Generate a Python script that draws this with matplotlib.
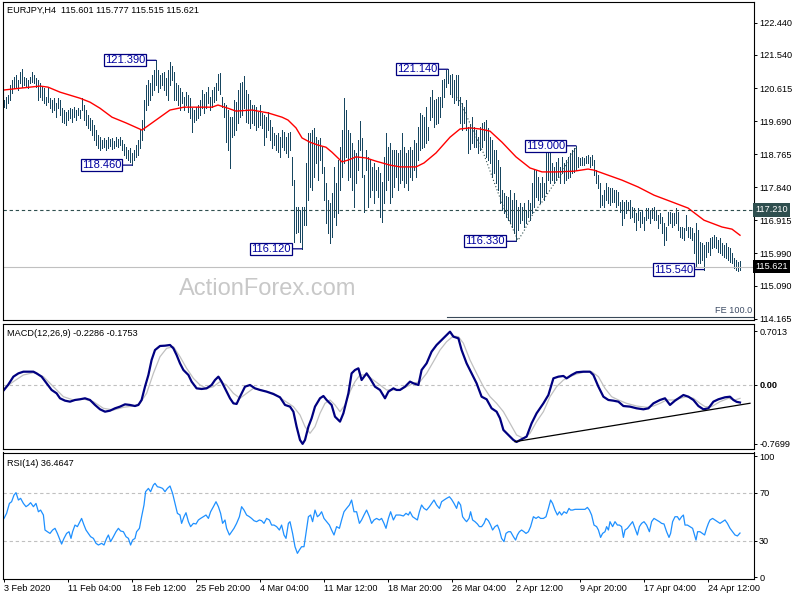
import matplotlib
matplotlib.use('Agg')
import matplotlib.pyplot as plt
import matplotlib.transforms as mtrans
import numpy as np

plt.rcParams['font.family'] = ['Liberation Sans', 'DejaVu Sans']

# EURJPY H4 bars (high / low)
high = [
    120.28, 120.36, 120.42, 120.70, 120.84, 120.92, 120.98, 120.84, 121.06, 121.14,
    120.92, 120.89, 120.84, 120.92, 121.06, 120.98, 120.89, 120.84, 120.75, 120.64,
    120.61, 120.36, 120.61, 120.33, 120.28, 120.33, 120.19, 120.33, 120.28, 120.05,
    120.00, 119.94, 120.00, 120.05, 120.03, 120.08, 120.00, 120.05, 120.00, 120.33,
    120.14, 120.00, 119.86, 119.77, 119.72, 119.58, 119.44, 119.30, 119.24, 119.16,
    119.21, 119.16, 119.24, 119.19, 119.21, 119.13, 119.24, 119.19, 119.24, 119.16,
    119.05, 118.96, 118.88, 118.93, 118.79, 118.88, 119.02, 119.16, 119.44, 119.72,
    120.28, 120.70, 120.84, 120.75, 120.98, 121.12, 121.39, 121.12, 120.98, 121.03,
    121.06, 120.89, 121.12, 121.34, 121.22, 121.06, 120.75, 120.70, 120.61, 120.50,
    120.36, 120.50, 120.42, 120.33, 120.05, 120.00, 120.09, 120.14, 120.28, 120.56,
    120.46, 120.51, 120.65, 120.37, 120.56, 120.65, 120.75, 121.02, 121.04, 120.37,
    120.19, 120.14, 120.00, 119.81, 119.81, 120.28, 120.23, 120.56, 120.75, 120.79,
    120.95, 120.56, 120.46, 120.28, 120.14, 120.14, 120.09, 119.95, 120.14, 119.91,
    119.86, 119.81, 119.95, 119.72, 119.53, 119.35, 119.30, 119.35, 119.25, 119.44,
    119.39, 119.25, 119.35, 119.39, 118.70, 118.04, 117.30, 117.30, 117.20, 117.30,
    117.30, 118.51, 119.35, 119.35, 119.44, 119.49, 119.25, 119.16, 119.21, 118.97,
    118.41, 117.95, 117.48, 117.39, 117.67, 118.41, 117.95, 118.60, 118.97, 119.44,
    120.33, 120.00, 119.44, 119.35, 119.07, 118.88, 118.79, 119.16, 119.70, 119.21,
    118.18, 118.88, 118.70, 118.60, 118.41, 118.51, 118.32, 118.41, 118.23, 117.99,
    118.70, 119.35, 118.97, 119.07, 118.88, 118.88, 118.88, 118.79, 118.88, 119.35,
    118.97, 118.79, 118.88, 118.97, 118.88, 119.16, 119.07, 119.53, 119.91, 119.85,
    119.81, 120.09, 119.53, 120.37, 120.56, 120.28, 120.30, 120.37, 120.37, 120.84,
    120.88, 121.12, 121.14, 120.98, 121.02, 120.84, 120.98, 120.98, 120.37, 120.19,
    120.09, 120.28, 119.53, 119.60, 119.81, 119.53, 119.44, 119.25, 119.53, 119.63,
    119.67, 119.72, 119.50, 119.25, 119.16, 118.88, 118.88, 118.60, 118.41, 117.76,
    117.67, 117.60, 117.58, 117.76, 117.48, 117.67, 117.48, 117.30, 117.39, 117.30,
    117.39, 117.20, 117.48, 117.39, 117.95, 118.32, 118.32, 118.14, 117.95, 118.14,
    117.95, 118.79, 118.97, 118.88, 118.51, 118.41, 118.55, 118.65, 118.41, 118.69,
    118.51, 118.60, 118.69, 118.79, 118.88, 118.93, 119.00, 118.69, 118.65, 118.69,
    118.65, 118.71, 118.74, 118.69, 118.74, 118.60, 118.32, 118.18, 117.95, 117.62,
    117.76, 117.95, 117.86, 117.81, 117.81, 117.76, 117.76, 117.72, 117.44, 117.48,
    117.44, 117.48, 117.44, 117.48, 117.30, 117.25, 117.11, 117.25, 117.16, 117.20,
    117.02, 117.25, 117.25, 117.20, 117.25, 117.30, 117.20, 117.06, 117.11, 117.02,
    116.83, 116.74, 117.16, 117.16, 117.11, 117.11, 117.25, 117.16, 116.74, 116.74,
    116.69, 117.06, 116.74, 116.74, 116.69, 116.55, 116.83, 116.64, 116.32, 116.27,
    116.22, 116.32, 116.32, 116.41, 116.46, 116.50, 116.46, 116.36, 116.41, 116.27,
    116.22, 116.27, 116.18, 116.13, 115.99, 115.85, 115.81, 115.76, 115.777,
]
low = [
    120.08, 120.05, 120.20, 120.28, 120.47, 120.61, 120.61, 120.56, 120.75, 120.64,
    120.70, 120.64, 120.61, 120.75, 120.78, 120.75, 120.64, 120.28, 120.36, 120.28,
    120.20, 120.14, 120.22, 120.05, 119.94, 120.00, 119.80, 120.05, 119.86, 119.66,
    119.63, 119.58, 119.72, 119.77, 119.66, 119.80, 119.72, 119.86, 119.77, 120.00,
    119.72, 119.58, 119.49, 119.44, 119.30, 119.16, 119.02, 118.93, 118.88, 118.93,
    118.96, 118.88, 118.93, 118.99, 118.90, 118.93, 118.99, 118.96, 119.02, 118.88,
    118.74, 118.65, 118.60, 118.54, 118.46, 118.60, 118.68, 118.74, 118.93, 119.16,
    119.44, 120.00, 120.14, 120.28, 120.42, 120.56, 120.70, 120.50, 120.61, 120.70,
    120.56, 120.42, 120.28, 120.70, 120.84, 120.28, 120.28, 120.14, 120.00, 120.19,
    120.00, 120.14, 119.94, 119.77, 119.39, 119.67, 119.72, 119.77, 119.86, 120.05,
    119.91, 120.05, 120.19, 120.00, 120.09, 120.23, 120.28, 120.56, 120.46, 120.09,
    119.81, 119.11, 118.88, 118.37, 119.25, 119.30, 119.44, 119.63, 119.81, 119.86,
    120.05, 119.67, 119.63, 119.49, 119.63, 119.58, 119.44, 119.53, 119.58, 119.49,
    119.02, 119.25, 119.44, 119.16, 118.93, 119.02, 118.88, 118.83, 118.69, 118.97,
    118.88, 118.79, 118.69, 118.88, 117.90, 116.32, 116.55, 116.60, 116.30, 116.12,
    116.78, 116.78, 117.48, 117.86, 117.76, 118.14, 118.51, 118.04, 118.60, 118.23,
    117.48, 116.83, 116.55, 116.29, 116.46, 117.02, 116.78, 117.11, 117.76, 118.14,
    118.51, 118.69, 118.04, 118.14, 117.76, 117.30, 117.95, 118.32, 118.88, 118.14,
    117.16, 118.32, 117.30, 117.58, 117.76, 117.39, 117.76, 117.58, 117.02, 116.88,
    117.39, 117.76, 118.04, 117.39, 117.58, 117.86, 118.14, 117.76, 117.95, 118.04,
    117.86, 117.95, 117.76, 118.14, 118.04, 118.32, 118.14, 118.60, 118.88, 118.95,
    118.97, 119.07, 119.16, 119.72, 119.81, 119.53, 119.60, 119.63, 119.81, 120.09,
    120.37, 120.65, 120.75, 120.46, 120.37, 120.19, 120.28, 120.14, 119.63, 119.44,
    119.63, 119.44, 118.79, 118.90, 119.07, 118.97, 118.97, 118.79, 118.88, 118.97,
    119.16, 118.69, 118.60, 118.51, 118.14, 118.23, 117.95, 117.76, 117.39, 117.20,
    117.11, 117.00, 116.92, 116.83, 116.74, 116.55, 116.33, 116.64, 116.83, 116.92,
    116.74, 116.83, 117.02, 116.92, 117.11, 117.30, 117.58, 117.48, 117.39, 117.58,
    117.48, 117.67, 118.04, 117.95, 118.04, 117.95, 118.04, 118.14, 117.95, 118.23,
    117.95, 118.04, 118.09, 118.14, 118.23, 118.27, 118.32, 118.41, 118.46, 118.46,
    118.46, 118.51, 118.51, 118.41, 118.46, 118.18, 117.95, 117.81, 117.30, 117.34,
    117.30, 117.48, 117.39, 117.34, 117.44, 117.44, 117.30, 117.34, 117.16, 116.78,
    116.97, 117.11, 117.20, 116.97, 117.02, 116.88, 116.64, 116.92, 116.74, 116.83,
    116.64, 116.92, 116.97, 116.83, 116.97, 116.92, 116.92, 116.69, 116.83, 116.55,
    116.22, 116.36, 116.78, 116.83, 116.74, 116.78, 116.83, 116.64, 116.46, 116.41,
    116.36, 116.64, 116.46, 116.41, 116.36, 115.99, 115.62, 115.71, 115.71, 115.81,
    115.54, 115.90, 116.04, 115.95, 116.13, 116.18, 116.13, 116.04, 115.99, 115.95,
    115.90, 115.85, 115.81, 115.76, 115.71, 115.57, 115.53, 115.51, 115.515,
]

# moving average (red)
ma_bar = [0, 8, 18, 22, 28, 38, 43, 48, 54, 61, 69, 76, 83, 90, 104, 107, 112, 116,
          124, 132, 139, 142, 146, 149, 153, 157, 161, 164, 169, 172, 176, 181, 186,
          193, 198, 206, 210, 216, 223, 228, 233, 238, 243, 249, 256, 263, 269, 276,
          285, 292, 295, 302, 309, 317, 325, 334, 342, 350, 359, 364, 368]
ma_val = [120.56, 120.61, 120.67, 120.64, 120.50, 120.33, 120.22, 120.05, 119.80,
          119.64, 119.44, 119.72, 120.00, 120.08, 120.08, 120.14, 120.05, 119.97,
          120.00, 119.92, 119.80, 119.72, 119.50, 119.22, 119.10, 119.02, 118.96,
          118.82, 118.55, 118.60, 118.69, 118.66, 118.57, 118.46, 118.41, 118.41,
          118.52, 118.80, 119.24, 119.47, 119.50, 119.47, 119.41, 119.10, 118.69,
          118.38, 118.27, 118.27, 118.29, 118.35, 118.32, 118.18, 118.04, 117.85,
          117.62, 117.43, 117.26, 116.92, 116.73, 116.67, 116.50]

# swing labels
swing_bar = [76, 64, 149, 222, 256, 286, 350]
swing_val = [121.390, 118.460, 116.120, 121.140, 116.330, 119.000, 115.540]

# dotted arc drawn on the chart
arc_bar = [227, 234.5, 239.7, 244.7, 249.7, 254.7, 257, 259.7, 264.7, 269.7, 274, 279, 282, 286.5]
arc_val = [120.36, 119.44, 118.80, 118.04, 117.29, 116.64, 116.36, 116.59, 117.12, 117.48,
           117.85, 118.24, 118.60, 118.97]

level_dash = 117.210
level_last = 115.621
fe_level = 114.20
fe_start = 221.5

main_ticks = [122.440, 121.540, 120.615, 119.690, 118.765, 117.840, 116.915, 115.990, 115.090, 114.165]

# MACD main (navy) and signal (silver)
macd_bar = [0, 2, 4.7, 7.2, 9.7, 12.2, 14.7, 16.3, 18.8, 21.3, 23.8, 26.3, 28, 30.5, 33,
            35.5, 38, 40.5, 43, 45.5, 48, 50.5, 53, 55.5, 58, 60.5, 63, 65.5, 67.2, 68.8,
            70.5, 72.2, 73.8, 75.5, 78, 80.5, 83, 84.7, 86.3, 88, 89.7, 92.2, 93.8, 96.3,
            98.8, 101.3, 103.8, 105.5, 107.2, 108.8, 110.5, 113, 114.7, 116.3, 118, 120.5,
            123, 125.5, 128, 131.3, 134.7, 138, 140.5, 143, 144.7, 146.3, 148, 149.3, 150.5,
            152.2, 153.8, 155.5, 158, 159.7, 161.3, 163.8, 165.5, 168, 169.7, 172.2, 173.8,
            175.5, 177.2, 178.8, 181.3, 183, 185.5, 188, 190.5, 192.2, 194.7, 196.3, 198,
            200.5, 203, 204.7, 207.2, 208.8, 211.3, 213.8, 216.3, 218.8, 221.3, 223, 224.7,
            227.2, 228.8, 231.3, 233.8, 236.3, 238.8, 241.3, 243.8, 246.3, 248, 249.7, 252.2,
            254.7, 256.3, 258.8, 261.3, 263.8, 266.3, 269.7, 272.2, 274.7, 277.2, 279.7,
            281.3, 283.8, 286.3, 289.7, 293, 294.7, 297.2, 299.7, 302.2, 304.7, 307.2, 309.7,
            313, 316.3, 319.7, 322.2, 324.7, 328, 330.5, 333, 335.5, 338, 339.7, 342.2, 344.7,
            347.2, 349.7, 352.2, 354.7, 357.2, 360.5, 363, 364.7, 366.3, 368]
macd_val = [-0.065, 0.0, 0.109, 0.152, 0.174, 0.174, 0.174, 0.152, 0.109, 0.022, -0.065,
            -0.109, -0.174, -0.205, -0.218, -0.196, -0.187, -0.174, -0.196, -0.261, -0.318,
            -0.349, -0.336, -0.305, -0.283, -0.253, -0.261, -0.275, -0.261, -0.196, -0.022,
            0.131, 0.327, 0.457, 0.510, 0.514, 0.523, 0.479, 0.392, 0.283, 0.196, 0.131,
            0.044, -0.044, -0.052, -0.044, 0.0, 0.065, 0.109, 0.044, -0.044, -0.174, -0.240,
            -0.248, -0.153, -0.022, 0.0, -0.044, -0.065, -0.087, -0.118, -0.161, -0.261,
            -0.283, -0.349, -0.545, -0.719, -0.770, -0.719, -0.545, -0.436, -0.283, -0.174,
            -0.144, -0.196, -0.261, -0.414, -0.479, -0.370, -0.109, 0.152, 0.196, 0.218,
            0.065, 0.152, 0.087, -0.022, -0.065, -0.174, -0.087, -0.044, -0.065, -0.065,
            -0.022, 0.044, 0.022, 0.0, 0.196, 0.283, 0.436, 0.523, 0.588, 0.654, 0.697,
            0.632, 0.610, 0.457, 0.283, 0.152, 0.022, -0.153, -0.187, -0.305, -0.349, -0.436,
            -0.588, -0.654, -0.719, -0.745, -0.710, -0.675, -0.501, -0.370, -0.240, -0.131,
            0.087, 0.109, 0.118, 0.087, 0.131, 0.166, 0.174, 0.174, 0.131, -0.022, -0.153,
            -0.196, -0.205, -0.218, -0.275, -0.283, -0.305, -0.318, -0.305, -0.240, -0.196,
            -0.174, -0.261, -0.205, -0.161, -0.131, -0.153, -0.196, -0.275, -0.318, -0.305,
            -0.218, -0.187, -0.161, -0.153, -0.196, -0.220, -0.229]
sig_bar = [0, 4.7, 9.7, 14.7, 19.7, 24.7, 29.7, 34.7, 39.7, 44.7, 49.7, 54.7, 59.7, 64.7,
           68, 71.3, 74.7, 78, 81.3, 84.7, 88, 91.3, 94.7, 98, 101.3, 104.7, 108, 111.3,
           114.7, 118, 121.3, 124.7, 129.7, 134.7, 139.7, 144.7, 148, 150.5, 153, 155.5,
           158, 160.5, 163, 165.5, 168, 170.5, 173, 175.5, 178, 181.3, 184.7, 188, 191.3,
           194.7, 198, 201.3, 204.7, 208, 211.3, 214.7, 218, 221.3, 224.7, 227.2, 229.7,
           233, 236.3, 239.7, 243, 246.3, 249.7, 253, 256.3, 259.7, 263, 266.3, 269.7, 273,
           276.3, 279.7, 283, 286.3, 289.7, 293.8, 297.2, 300.5, 303.8, 307.2, 311.3, 316.3,
           321.3, 324.7, 328, 331.3, 334.7, 338, 341.3, 344.7, 348, 350.5, 353.8, 358, 362.2,
           365.5, 368]
sig_val = [-0.044, 0.044, 0.131, 0.161, 0.109, -0.022, -0.153, -0.196, -0.183, -0.218,
           -0.305, -0.327, -0.292, -0.275, -0.240, -0.109, 0.152, 0.370, 0.479, 0.501,
           0.370, 0.218, 0.087, 0.0, -0.044, -0.022, 0.044, 0.0, -0.109, -0.174, -0.109,
           -0.044, -0.074, -0.109, -0.196, -0.283, -0.392, -0.545, -0.632, -0.545, -0.370,
           -0.240, -0.196, -0.261, -0.349, -0.261, -0.087, 0.044, 0.131, 0.131, 0.065, 0.0,
           -0.065, -0.065, -0.065, -0.022, 0.022, 0.044, 0.152, 0.305, 0.457, 0.566, 0.640,
           0.632, 0.545, 0.327, 0.152, -0.022, -0.153, -0.240, -0.349, -0.501, -0.654,
           -0.697, -0.632, -0.479, -0.349, -0.153, -0.022, 0.065, 0.109, 0.144, 0.166, 0.174,
           0.109, -0.044, -0.153, -0.196, -0.240, -0.275, -0.292, -0.275, -0.240, -0.196,
           -0.196, -0.174, -0.153, -0.174, -0.240, -0.283, -0.283, -0.218, -0.174, -0.196,
           -0.175]
trend_bar = [255.5, 373]
trend_val = [-0.741, -0.239]
macd_ticks = [0.7013, 0.0, -0.7699]
macd_ticklabels = ['0.7013', '0.00', '-0.7699']

# RSI(14)
rsi_bar = [0, 1.3, 2.7, 3.8, 5, 6, 7.2, 8.3, 9.7, 11, 12.2, 13.3, 14.7, 16, 17.2, 18.3,
           19.7, 20.5, 21.7, 23, 24.3, 25.5, 26.7, 28, 28.8, 30, 31.3, 32.5, 33.5, 34.3,
           35.5, 36.7, 38, 38.8, 40, 41, 42.2, 43.3, 44.7, 46, 47.2, 48.8, 50, 51.3, 52.2,
           53.3, 54.7, 56, 57.2, 58.3, 59.7, 61, 62.2, 63.3, 64.3, 65.5, 66.3, 67.7, 68.8,
           70, 70.8, 72.2, 73.3, 74.7, 75.5, 76.7, 78, 79.3, 80.5, 81.7, 83, 84.3, 85.5,
           86.7, 88, 88.8, 90, 91, 92.2, 93.3, 94.7, 96, 97.2, 98.3, 99.7, 101, 102.2, 103.3,
           104.7, 106, 107.2, 108.3, 109.3, 110.5, 111.3, 112.7, 113.8, 115, 116.3, 117.7,
           118.8, 120, 121.3, 122.7, 123.8, 125, 126.3, 127.7, 128.8, 130, 131.3, 132.7,
           133.8, 135, 136.3, 137.7, 138.8, 140, 141, 142.2, 143, 144.3, 145.5, 146.7,
           147.7, 148.8, 150, 151, 152.2, 153.3, 154.3, 155.5, 156.7, 157.7, 158.8, 160,
           161.3, 162.7, 163.8, 165, 166.3, 167.7, 168.8, 170, 171.3, 172.7, 173.8, 175,
           176.3, 177.7, 178.8, 180, 181.3, 182.7, 183.8, 185, 186.3, 187.7, 188.8, 190,
           191, 192.2, 193.3, 194.7, 196, 198, 199.7, 201, 202.2, 203, 204.3, 205.5, 206.7,
           207.7, 208.8, 210, 211.3, 212.7, 213.8, 215, 216.3, 217.7, 218.8, 220, 221.3,
           222.7, 223.8, 225, 226.3, 227.2, 228.3, 229.3, 230.5, 231.3, 232.5, 233.3, 234.3,
           235.5, 236.7, 237.7, 238.8, 240, 241, 242.2, 243.3, 244.3, 245.5, 246.7, 247.7,
           248.8, 250, 251, 252.2, 253.3, 254.7, 255.8, 256.7, 257.7, 258.8, 260, 261,
           262.2, 263.3, 264.7, 266, 267.2, 268.3, 269.7, 271, 272.2, 273.3, 274.3, 275.5,
           276.7, 277.7, 278.8, 280, 281.3, 282.5, 283.3, 284.3, 285.5, 286.7, 288, 289.3,
           290.5, 291.7, 292.7, 293.8, 295, 296.3, 297.2, 298.3, 299.3, 300.5, 301.3, 302.2,
           303, 304.3, 305.5, 306.7, 307.7, 308.8, 309.7, 310.5, 311.7, 313, 314.3, 315.5,
           316.7, 317.7, 318.8, 320, 321.3, 322.7, 323.8, 325, 326.3, 327.7, 328.8, 330,
           331.3, 332.5, 333.3, 334.3, 335.5, 336.7, 337.7, 338.8, 339.7, 340.5, 341.7, 343,
           344.3, 345.5, 346, 346.8, 348, 349.2, 350.3, 351.3, 352.2, 353, 354.3, 355.5,
           356.7, 358, 359.3, 360.5, 361.7, 363, 364.3, 365.5, 366.7, 368]
rsi_val = [48.6, 52.8, 61.0, 62.4, 67.9, 69.9, 63.8, 65.2, 61.0, 58.3, 59.7, 61.6, 58.3,
           61.0, 54.1, 55.5, 51.4, 39.0, 37.6, 36.2, 39.0, 40.4, 36.2, 30.7, 27.4, 32.1,
           36.2, 37.6, 32.1, 37.6, 43.1, 41.8, 45.9, 48.6, 43.1, 39.0, 36.2, 33.5, 32.1,
           28.0, 26.6, 28.0, 26.6, 32.1, 34.9, 29.4, 33.5, 37.6, 40.4, 38.2, 37.6, 33.5,
           32.1, 26.6, 30.7, 32.1, 37.6, 40.4, 50.0, 59.7, 70.7, 73.4, 70.7, 76.2, 77.6,
           74.8, 74.3, 73.4, 70.7, 73.4, 75.4, 69.3, 61.0, 52.8, 51.4, 44.5, 50.0, 53.3,
           45.9, 41.8, 44.5, 44.0, 47.3, 48.6, 50.0, 51.4, 48.6, 54.1, 58.3, 62.4, 58.3,
           52.8, 44.5, 47.3, 40.4, 34.9, 37.6, 40.4, 44.5, 50.0, 58.3, 55.5, 51.4, 50.0,
           48.6, 46.7, 45.9, 47.3, 46.7, 44.5, 48.6, 47.3, 43.1, 43.1, 41.8, 39.0, 43.1,
           34.9, 32.1, 44.5, 45.9, 36.2, 25.2, 19.7, 22.5, 25.2, 25.2, 36.2, 50.0, 51.4,
           45.9, 55.5, 50.0, 51.4, 54.1, 48.6, 45.9, 43.1, 39.0, 34.9, 41.8, 40.4, 47.3,
           54.1, 56.9, 59.7, 63.8, 54.1, 54.1, 44.5, 47.3, 51.4, 55.5, 50.0, 44.5, 47.3,
           48.6, 47.3, 48.6, 44.5, 40.4, 48.6, 54.1, 47.3, 51.4, 51.4, 50.6, 52.8, 51.4,
           54.1, 50.0, 48.6, 47.3, 54.1, 59.7, 56.9, 55.5, 58.3, 61.0, 63.8, 59.7, 56.9,
           62.4, 63.8, 65.2, 66.5, 64.3, 61.0, 56.9, 62.4, 59.7, 50.0, 47.3, 45.9, 48.6,
           54.1, 47.3, 45.9, 44.0, 41.8, 41.8, 44.5, 48.6, 46.7, 43.1, 39.0, 41.8, 43.1,
           39.0, 32.1, 29.4, 36.2, 37.6, 37.6, 33.5, 30.7, 34.9, 37.6, 39.0, 37.6, 36.2,
           37.6, 41.8, 50.0, 48.6, 50.0, 48.6, 48.6, 50.0, 56.9, 63.8, 61.0, 55.5, 51.4,
           54.1, 51.4, 54.1, 52.8, 56.9, 55.5, 55.5, 56.1, 56.1, 56.1, 56.1, 56.1, 57.7,
           55.5, 51.4, 43.1, 41.8, 39.0, 32.9, 36.2, 37.6, 41.8, 39.0, 45.9, 41.8, 45.9,
           43.1, 43.1, 41.8, 32.9, 39.0, 40.4, 43.1, 45.9, 40.4, 34.9, 41.8, 44.5, 45.9,
           43.1, 37.6, 45.9, 48.6, 47.3, 45.9, 44.5, 44.0, 37.6, 32.9, 36.2, 45.9, 50.0,
           50.0, 47.3, 50.0, 51.4, 43.1, 43.1, 41.8, 40.4, 33.5, 30.7, 37.6, 37.6, 36.2,
           34.9, 40.4, 44.5, 47.3, 48.6, 47.3, 45.9, 44.5, 45.9, 47.3, 44.5, 40.4, 37.6,
           34.9, 34.1, 36.5]

date_bar = [0, 32, 64, 96, 128, 160, 192, 224, 256, 288, 320, 352]
date_labels = ['3 Feb 2020', '11 Feb 04:00', '18 Feb 12:00', '25 Feb 20:00', '4 Mar 04:00',
               '11 Mar 12:00', '18 Mar 20:00', '26 Mar 04:00', '2 Apr 12:00', '9 Apr 20:00',
               '17 Apr 04:00', '24 Apr 12:00']

BAR_COLOR = '#174660'
FS = 6.6
W, H = 800, 600

fig = plt.figure(figsize=(8, 6), dpi=100)


def px_rect(x0, y0, x1, y1):
    return [x0 / W, 1 - y1 / H, (x1 - x0) / W, (y1 - y0) / H]


ax = fig.add_axes(px_rect(3, 2, 754, 320))
ax2 = fig.add_axes(px_rect(3, 323.5, 754, 449))
ax3 = fig.add_axes(px_rect(3, 452.5, 754, 579))

for a in (ax, ax2, ax3):
    a.set_xlim(-0.5, 375)
    for s in a.spines.values():
        s.set_linewidth(0.8)
        s.set_color('black')
    a.yaxis.tick_right()
    a.tick_params(axis='y', direction='out', length=2.2, width=0.7, pad=1.5, labelsize=FS)
    a.set_xticks([])

# ---- main price panel
x = np.arange(len(high))
ax.vlines(x, low, high, colors=BAR_COLOR, linewidth=0.5, antialiased=False)
ax.plot(ma_bar, ma_val, color='#ff0000', lw=1.0)
ax.axhline(level_dash, color='#2f4f4f', lw=0.8, ls=(0, (3, 2.5)))
ax.axhline(level_last, color='#c0c0c0', lw=0.8)
ax.plot([fe_start, 375], [fe_level, fe_level], color='#3a4a5a', lw=0.8)
ax.plot(arc_bar, arc_val, color='#2f4f4f', lw=0.8, ls=(0, (1, 2)))
ax.set_ylim(114.13, 123.02)
ax.set_yticks(main_ticks)
ax.set_yticklabels(['%.3f' % v for v in main_ticks])

for b, v in zip(swing_bar, swing_val):
    ax.annotate('%.3f' % v, xy=(b, v), xytext=(-11, 0), textcoords='offset pixels',
                ha='right', va='center', fontsize=8, color='#0000a0',
                bbox=dict(boxstyle='square,pad=0.1', fc='white', ec='#000080', lw=0.9),
                arrowprops=dict(arrowstyle='-', color='#000080', lw=0.9, shrinkA=0, shrinkB=0))

tr = mtrans.blended_transform_factory(ax.transAxes, ax.transData)
ax.text(1.002, level_dash, '%.3f' % level_dash, transform=tr, ha='left', va='center',
        fontsize=FS, color='white',
        bbox=dict(boxstyle='square,pad=0.25', fc='#2f4f4f', ec='none'))
ax.text(1.002, level_last, '%.3f' % level_last, transform=tr, ha='left', va='center',
        fontsize=FS, color='white',
        bbox=dict(boxstyle='square,pad=0.25', fc='black', ec='none'))
ax.text(0.998, fe_level + 0.06, 'FE 100.0', transform=tr, ha='right', va='bottom',
        fontsize=FS, color='#3c4b64')
ax.text(0.353, 0.098, 'ActionForex.com', transform=ax.transAxes, ha='center', va='center',
        fontsize=17, color='#c8c8c8')

# ---- MACD panel
ax2.axhline(0, color='#c0c0c0', lw=0.8, ls=(0, (3, 2.5)))
ax2.plot(sig_bar, sig_val, color='#c0c0c0', lw=0.9)
ax2.plot(macd_bar, macd_val, color='#000080', lw=1.6)
ax2.plot(trend_bar, trend_val, color='black', lw=0.9)
ax2.set_ylim(-0.837, 0.804)
ax2.set_yticks(macd_ticks)
ax2.set_yticklabels(macd_ticklabels)
ax2.get_yticklabels()[1].set_fontweight('bold')

# ---- RSI panel
ax3.axhline(70, color='#c0c0c0', lw=0.8, ls=(0, (3, 2.5)))
ax3.axhline(30, color='#c0c0c0', lw=0.8, ls=(0, (3, 2.5)))
ax3.plot(rsi_bar, rsi_val, color='#1e90ff', lw=0.9)
ax3.set_ylim(-1.5, 103.1)
ax3.set_yticks([100, 70, 30, 0])
ax3.set_yticklabels(['100', '70', '30', '0'])
ax3.set_xticks(date_bar)
ax3.set_xticklabels(date_labels, ha='left')
ax3.tick_params(axis='x', direction='out', length=2.2, width=0.7, pad=1.5, labelsize=FS)

# panel captions
fig.text(7 / W, 1 - 10 / H, 'EURJPY,H4  115.601 115.777 115.515 115.621', fontsize=FS,
         va='center', ha='left')
fig.text(7 / W, 1 - 333 / H, 'MACD(12,26,9) -0.2286 -0.1753', fontsize=FS, va='center', ha='left')
fig.text(7 / W, 1 - 463 / H, 'RSI(14) 36.4647', fontsize=FS, va='center', ha='left')

fig.savefig('out.png', dpi=100, facecolor='white')
